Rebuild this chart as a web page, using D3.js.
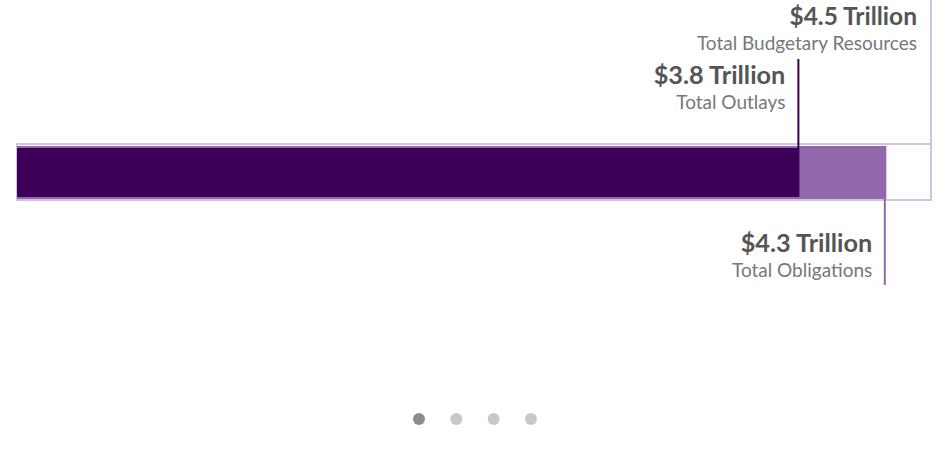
<!DOCTYPE html>
<html><head><meta charset="utf-8">
<script src="https://cdn.jsdelivr.net/npm/d3@7"></script>
<style>
body{margin:0;background:#fff;}
svg{display:block;font-family:"Source Sans Pro",Lato,"Open Sans",sans-serif;}
</style></head>
<body><div id="chart"></div>
<script>
// Data (trillions of dollars)
const categories = ["Total Budgetary Resources", "Total Obligations", "Total Outlays"];
const values = [4.50, 4.28, 3.852];
const valueLabels = ["$4.5 Trillion", "$4.3 Trillion", "$3.8 Trillion"];
const pages = [0, 1, 2, 3];
const activePage = 0;

const W = 951, H = 450;
const svg = d3.select("#chart").append("svg").attr("width", W).attr("height", H);

const x = d3.scaleLinear().domain([0, values[0]]).range([17, 931]);

const colors = { res: "#d3c2df", obl: "#9168ab", out: "#3c0056" };

// Budgetary resources outline
svg.append("rect").attr("x", x(0)).attr("y", 144).attr("width", x(values[0]) - x(0)).attr("height", 56)
  .attr("fill", "#fff").attr("stroke", colors.res).attr("stroke-width", 2);
// Obligations bar
svg.append("rect").attr("x", x(0)).attr("y", 146).attr("width", x(values[1]) - x(0)).attr("height", 53)
  .attr("fill", colors.obl);
// Outlays bar
svg.append("rect").attr("x", x(0)).attr("y", 148).attr("width", x(values[2]) - x(0)).attr("height", 49)
  .attr("fill", colors.out);

// Leader lines
svg.append("line").attr("x1", x(values[0])).attr("x2", x(values[0])).attr("y1", 0).attr("y2", 144)
  .attr("stroke", colors.res).attr("stroke-width", 2);
svg.append("line").attr("x1", x(values[2]) - 1).attr("x2", x(values[2]) - 1).attr("y1", 59).attr("y2", 148)
  .attr("stroke", colors.out).attr("stroke-width", 2);
svg.append("line").attr("x1", x(values[1]) - 1.5).attr("x2", x(values[1]) - 1.5).attr("y1", 199).attr("y2", 285)
  .attr("stroke", colors.obl).attr("stroke-width", 2);

function label(xr, yTop, val, cat, sz) {
  svg.append("text").attr("x", xr).attr("y", yTop).attr("text-anchor", "end")
    .attr("font-size", sz).attr("font-weight", 700).attr("fill", "#555").text(val);
  svg.append("text").attr("x", xr).attr("y", yTop + 25).attr("text-anchor", "end")
    .attr("font-size", 19).attr("fill", "#777").text(cat);
}
label(x(values[0]) - 14, 24.5, valueLabels[0], categories[0], 24.5);
label(x(values[2]) - 14, 84, valueLabels[2], categories[2], 25.3);
label(x(values[1]) - 14, 252, valueLabels[1], categories[1], 25.3);

// Pager dots
const dx = d3.scalePoint().domain(pages).range([419, 531]);
svg.selectAll("circle.dot").data(pages).join("circle").attr("class", "dot")
  .attr("cx", d => dx(d)).attr("cy", 419).attr("r", 6)
  .attr("fill", d => d === activePage ? "#8c8c8c" : "#c8c8c8");
</script></body></html>
